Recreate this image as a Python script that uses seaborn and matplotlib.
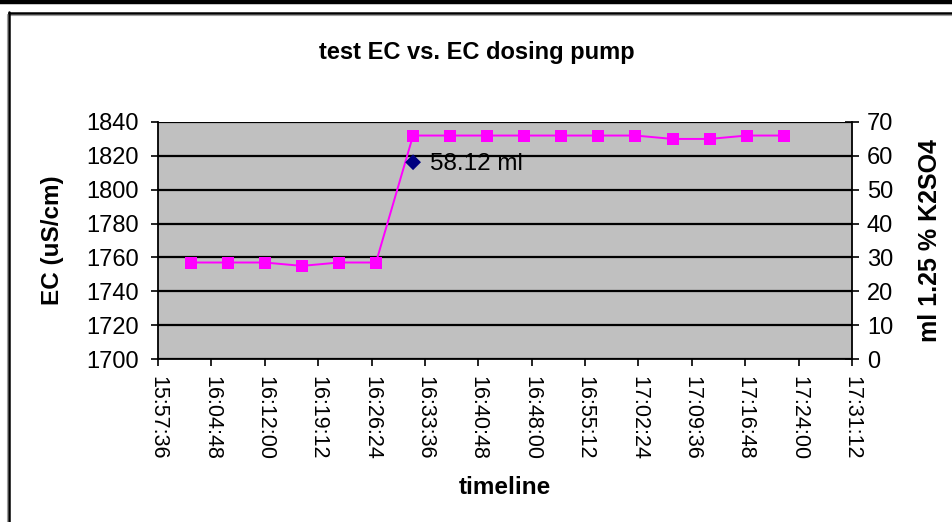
import matplotlib
matplotlib.use("Agg")
import matplotlib.pyplot as plt
import matplotlib.dates as mdates
from matplotlib.lines import Line2D
import seaborn as sns
import pandas as pd

# Measurement data
sample_times = ["16:02", "16:07", "16:12", "16:17", "16:22", "16:27", "16:32",
                "16:37", "16:42", "16:47", "16:52", "16:57", "17:02", "17:07",
                "17:12", "17:17", "17:22"]
ec_values = [1757, 1757, 1757, 1755, 1757, 1757, 1832, 1832, 1832, 1832,
             1832, 1832, 1832, 1830, 1830, 1832, 1832]
dose_times = ["16:32"]
dose_ml = [58.12]
dose_labels = ["58.12 ml"]

ec_ticks = [1700, 1720, 1740, 1760, 1780, 1800, 1820, 1840]
ml_ticks = [0, 10, 20, 30, 40, 50, 60, 70]
axis_start = "15:57:36"
axis_step_s = 432
axis_n_ticks = 14

day = "2000-01-01 "
df = pd.DataFrame({"time": pd.to_datetime([day + t for t in sample_times]),
                   "ec": ec_values})
dose = pd.DataFrame({"time": pd.to_datetime([day + t for t in dose_times]),
                     "ml": dose_ml})
xticks = pd.date_range(day + axis_start, periods=axis_n_ticks,
                       freq=f"{axis_step_s}s")

sns.set_theme(style="white")
plt.rcParams["font.family"] = ["Liberation Sans", "DejaVu Sans"]

fig = plt.figure(figsize=(9.53, 5.22), dpi=100)
W, H = 953, 522
ax_left, ax_right, ax_top, ax_bottom = 158, 852, 122, 359
aw, ah = ax_right - ax_left, ax_bottom - ax_top
ax = fig.add_axes([ax_left / W, 1 - ax_bottom / H, aw / W, ah / H])
ax.set_facecolor("#C0C0C0")

sns.lineplot(data=df, x="time", y="ec", ax=ax, color="#FF00FF", lw=1.4,
             marker="s", markersize=8.3, markeredgewidth=0, zorder=4)

ax.set_xlim(xticks[0], xticks[-1])
ax.set_ylim(ec_ticks[0], ec_ticks[-1])
ax.set_yticks(ec_ticks)
ax.set_xticks(xticks)
ax.xaxis.set_major_formatter(mdates.DateFormatter("%H:%M:%S"))
ax.grid(axis="y", color="black", lw=1.6)
ax.grid(axis="x", visible=False)
for s in ["top", "right"]:
    ax.spines[s].set_visible(False)
for s in ["left", "bottom"]:
    ax.spines[s].set_color("black")
    ax.spines[s].set_linewidth(1.3)
ax.tick_params(axis="y", direction="out", length=5, width=1.2, color="black",
               labelsize=17, pad=9, left=True, labelcolor="black")
ax.tick_params(axis="x", direction="out", length=5, width=1.2, color="black",
               labelsize=15.5, pad=7, rotation=-90, bottom=True,
               labelcolor="black")
for lab in ax.get_xticklabels():
    lab.set_verticalalignment("top")

ax.set_xlabel("timeline", fontsize=17.5, fontweight="bold", color="black")
ax.set_ylabel("EC (uS/cm)", fontsize=17.5, fontweight="bold", color="black")
ax.xaxis.set_label_coords(0.5, (ax_bottom - 487) / ah)
ax.xaxis.label.set_verticalalignment("center")
ax.yaxis.set_label_coords((52 - ax_left) / aw, 0.5)
ax.yaxis.label.set_verticalalignment("center")

ax2 = ax.twinx()
sns.scatterplot(data=dose, x="time", y="ml", ax=ax2, color="#000080",
                marker="D", s=65, edgecolor="none", zorder=5)
ax2.set_ylim(ml_ticks[0], ml_ticks[-1])
ax2.set_yticks(ml_ticks)
for t, v, txt in zip(dose["time"], dose["ml"], dose_labels):
    ax2.annotate(txt, (t, v), xytext=(12, -1.5), textcoords="offset points",
                 va="center", ha="left", fontsize=17.5, color="black")
for s in ["top", "left", "bottom"]:
    ax2.spines[s].set_visible(False)
ax2.spines["right"].set_color("black")
ax2.spines["right"].set_linewidth(1.3)
ax2.tick_params(axis="y", direction="inout", length=9.5, width=1.2,
                color="black", labelsize=17, pad=6, right=True,
                labelcolor="black")
ax2.set_ylabel("ml 1.25 % K2SO4", fontsize=18, fontweight="bold",
               color="black")
ax2.yaxis.set_label_coords((930 - ax_left) / aw, 0.5)
ax2.yaxis.label.set_verticalalignment("center")
ax2.grid(False)

fig.suptitle("test EC vs. EC dosing pump", x=477 / W, y=1 - 53 / H,
             va="center", fontsize=17, fontweight="bold", color="black")

# chart frame
fig.add_artist(Line2D([0, 1], [1 - 1.5 / H] * 2, color="black", lw=3.2,
                      transform=fig.transFigure))
fig.add_artist(Line2D([9 / W, 1], [1 - 13 / H] * 2, color="black", lw=1.8,
                      transform=fig.transFigure))
fig.add_artist(Line2D([9 / W, 1], [1 - 15 / H] * 2, color="#A0A0A0", lw=0.8,
                      transform=fig.transFigure))
fig.add_artist(Line2D([9 / W] * 2, [0, 1 - 12 / H], color="black", lw=1.8,
                      transform=fig.transFigure))
fig.add_artist(Line2D([7 / W] * 2, [0, 1 - 14 / H], color="#A0A0A0", lw=0.8,
                      transform=fig.transFigure))

fig.savefig("out.png", dpi=100)
